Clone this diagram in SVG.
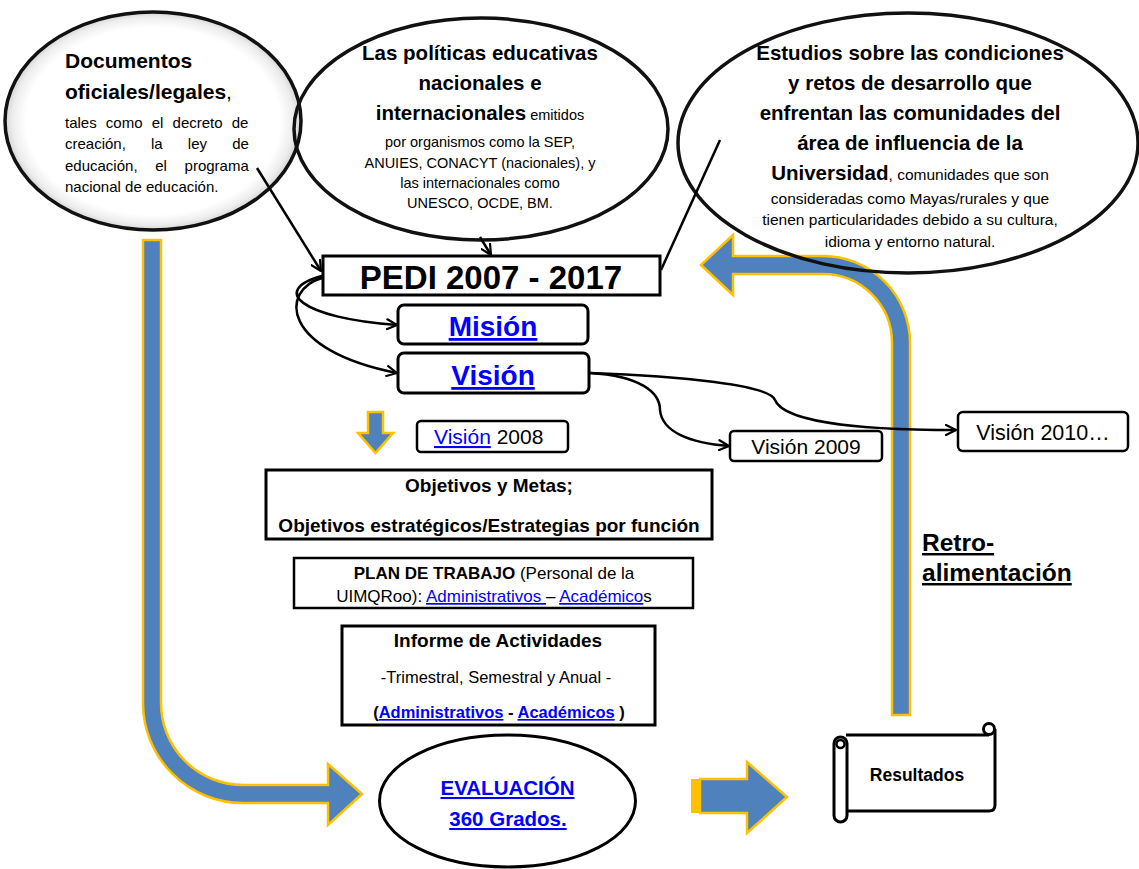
<svg xmlns="http://www.w3.org/2000/svg" width="1139" height="869" viewBox="0 0 1139 869">
<defs>
<radialGradient id="soft" cx="50%" cy="50%" r="50%">
<stop offset="0" stop-color="#ffffff"/>
<stop offset="0.86" stop-color="#ffffff"/>
<stop offset="0.95" stop-color="#ededed"/>
<stop offset="1" stop-color="#d4d4d4"/>
</radialGradient>
<marker id="arr" viewBox="0 0 12 12" refX="11" refY="6" markerWidth="12" markerHeight="12" orient="auto" markerUnits="userSpaceOnUse">
<path d="M1,1 L11,6 L1,11" fill="none" stroke="#000" stroke-width="2.2" stroke-linecap="round" stroke-linejoin="round"/>
</marker>
</defs>
<style>
text{font-family:"Liberation Sans",Arial,sans-serif;fill:#000}
.b{font-weight:bold}
.lnk{fill:#0000ff;text-decoration:underline}
.box{fill:#fff;stroke:#000;stroke-width:3}
.ell{stroke:#111;stroke-width:3.5}
.conn{fill:none;stroke:#000;stroke-width:2.5}
.barrow{fill:#4F81BD;stroke:#FFC000;stroke-width:2.5}
.t1{font-size:20.5px;font-weight:bold}
.sm{font-size:15px}
</style>

<g id="big-arrows">
<path class="barrow" d="M143 240 L143 703 A100 100 0 0 0 243 803 L328 803 L328 825 L362 794 L328 764 L328 785 L243 785 A82 82 0 0 1 161 703 L161 240 Z"/>
<path class="barrow" d="M892 715 L892 343 A69 69 0 0 0 823 274 L733 274 L733 295 L701 265 L733 235 L733 256 L823 256 A87 87 0 0 1 910 343 L910 715 Z"/>
<path class="barrow" d="M368 412 L383 412 L383 433 L393 433 L375.5 453 L358 433 L368 433 Z"/>
<rect x="691" y="779" width="8" height="34" fill="#FFC000"/>
<path class="barrow" d="M700 779 L747 779 L747 762 L787 797 L747 833 L747 813 L700 813 Z"/>
</g>

<g id="documentos">
<ellipse class="ell" cx="153" cy="121" rx="148" ry="109" fill="url(#soft)"/>
<text x="65" y="68" style="font-size:21px" class="b">Documentos</text>
<text x="65" y="99" style="font-size:21px"><tspan class="b">oficiales/legales</tspan>,</text>
<text class="sm" x="65" y="128" style="word-spacing:5px">tales como el decreto de</text>
<text class="sm" x="65" y="149" style="word-spacing:21px">creación, la ley de</text>
<text class="sm" x="65" y="171" style="word-spacing:13.5px">educación, el programa</text>
<text class="sm" x="65" y="192">nacional de educación.</text>
</g>

<g id="politicas">
<ellipse class="ell" cx="481" cy="129" rx="187" ry="111" fill="none"/>
<text class="t1" x="480" y="60" text-anchor="middle">Las políticas educativas</text>
<text class="t1" x="480" y="90" text-anchor="middle">nacionales e</text>
<text x="480" y="120" text-anchor="middle"><tspan class="t1">internacionales</tspan><tspan style="font-size:14.5px"> emitidos</tspan></text>
<text x="480" y="147" text-anchor="middle" style="font-size:14.5px">por organismos como la SEP,</text>
<text x="480" y="168" text-anchor="middle" style="font-size:14.5px">ANUIES, CONACYT (nacionales), y</text>
<text x="480" y="188" text-anchor="middle" style="font-size:14.5px">las internacionales como</text>
<text x="480" y="208" text-anchor="middle" style="font-size:14.5px">UNESCO, OCDE, BM.</text>
</g>

<g id="estudios">
<ellipse class="ell" cx="908" cy="143" rx="230" ry="130" fill="none"/>
<text class="t1" x="910" y="60" text-anchor="middle">Estudios sobre las condiciones</text>
<text class="t1" x="910" y="90" text-anchor="middle">y retos de desarrollo que</text>
<text class="t1" x="910" y="120" text-anchor="middle">enfrentan las comunidades del</text>
<text class="t1" x="910" y="150" text-anchor="middle">área de influencia de la</text>
<text x="910" y="180" text-anchor="middle"><tspan class="t1">Universidad</tspan><tspan style="font-size:15.5px">, comunidades que son</tspan></text>
<text x="910" y="204" text-anchor="middle" style="font-size:15.5px">consideradas como Mayas/rurales y que</text>
<text x="910" y="225" text-anchor="middle" style="font-size:15.5px">tienen particularidades debido a su cultura,</text>
<text x="910" y="247" text-anchor="middle" style="font-size:15.5px">idioma y entorno natural.</text>
</g>

<g id="pedi">
<rect class="box" x="323" y="256" width="337" height="39"/>
<text x="491" y="289" text-anchor="middle" class="b" style="font-size:33px">PEDI 2007 - 2017</text>
</g>

<g id="mision">
<rect class="box" x="398" y="305" width="190" height="39" rx="6"/>
<text x="493" y="336" text-anchor="middle" class="b lnk" style="font-size:28px">Misión</text>
</g>

<g id="vision">
<rect class="box" x="398" y="353" width="191" height="40" rx="6"/>
<text x="493" y="385" text-anchor="middle" class="b lnk" style="font-size:28px">Visión</text>
</g>

<g id="vision2008">
<rect class="box" x="417" y="421" width="151" height="31" rx="4" style="stroke-width:2.5"/>
<text x="434" y="444" style="font-size:21px"><tspan class="lnk">Visión</tspan> 2008</text>
</g>

<g id="vision2009">
<rect class="box" x="730" y="431" width="152" height="30" rx="4" style="stroke-width:2.5"/>
<text x="806" y="454" text-anchor="middle" style="font-size:21px">Visión 2009</text>
</g>

<g id="vision2010">
<rect class="box" x="958" y="412" width="170" height="39" rx="5" style="stroke-width:2.5"/>
<text x="1043" y="440" text-anchor="middle" style="font-size:21.5px">Visión 2010…</text>
</g>

<g id="objetivos">
<rect class="box" x="266" y="470" width="446" height="69"/>
<text x="489" y="492" text-anchor="middle" class="b" style="font-size:19px">Objetivos y Metas;</text>
<text x="489" y="532" text-anchor="middle" class="b" style="font-size:19px">Objetivos estratégicos/Estrategias por función</text>
</g>

<g id="plan">
<rect class="box" x="294" y="558" width="399" height="50" style="stroke-width:2.5"/>
<text x="494" y="579" text-anchor="middle" style="font-size:17px"><tspan class="b">PLAN DE TRABAJO</tspan> (Personal de la</text>
<text x="494" y="602" text-anchor="middle" style="font-size:17px">UIMQRoo): <tspan class="lnk">Administrativos </tspan>– <tspan class="lnk">Académico</tspan>s</text>
</g>

<g id="informe">
<rect class="box" x="342" y="626" width="313" height="99"/>
<text x="498" y="647" text-anchor="middle" class="b" style="font-size:19px">Informe de Actividades</text>
<text x="496" y="683" text-anchor="middle" style="font-size:16.5px">-Trimestral, Semestral y Anual -</text>
<text x="499" y="718" text-anchor="middle" class="b" style="font-size:16.5px">(<tspan class="lnk">Administrativos</tspan> - <tspan class="lnk">Académicos</tspan> )</text>
</g>

<g id="evaluacion">
<ellipse cx="507.5" cy="801" rx="128" ry="66" fill="#fff" stroke="#000" stroke-width="3"/>
<text x="507.5" y="795" text-anchor="middle" class="b lnk" style="font-size:20.5px">EVALUACIÓN</text>
<text x="508" y="826" text-anchor="middle" class="b lnk" style="font-size:20.5px">360 Grados.</text>
</g>

<g id="resultados">
<path d="M846 735 L989 735 M995 729 L995 805 Q995 811 989 811 L847 811" fill="none" stroke="#000" stroke-width="3"/>
<circle cx="989" cy="729" r="5.5" fill="#fff" stroke="#000" stroke-width="3"/>
<rect x="834" y="737" width="13" height="85" rx="6.5" fill="#fff" stroke="#000" stroke-width="3"/>
<circle cx="840.5" cy="744" r="4" fill="none" stroke="#000" stroke-width="2.5"/>
<text x="917" y="781" text-anchor="middle" class="b" style="font-size:17.5px">Resultados</text>
</g>

<g id="retro">
<text x="922" y="551" class="b" style="font-size:24.5px;text-decoration:underline">Retro-</text>
<text x="922" y="581" class="b" style="font-size:24.5px;text-decoration:underline">alimentación</text>
</g>

<g id="connectors">
<path class="conn" d="M257 168 L321 271" marker-end="url(#arr)"/>
<path class="conn" d="M480 237 L491 255" marker-end="url(#arr)"/>
<path class="conn" d="M720 140 L661 270"/>
<path class="conn" d="M322 276 C270 290 300 318 397 325" marker-end="url(#arr)"/>
<path class="conn" d="M322 278 C280 290 280 350 397 373" marker-end="url(#arr)"/>
<path class="conn" d="M590 373 C640 376 660 392 660 410 C662 432 690 443 729 446" marker-end="url(#arr)"/>
<path class="conn" d="M590 373 C680 376 770 385 775 400 C785 425 880 430 956 430" marker-end="url(#arr)"/>
</g>
</svg>
